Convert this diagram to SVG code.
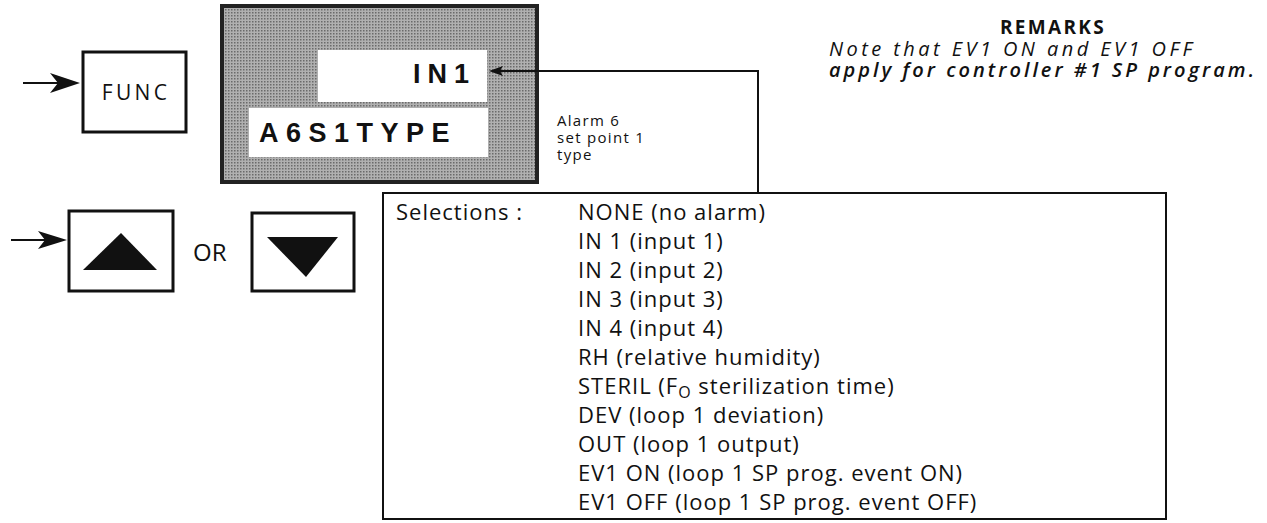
<svg xmlns="http://www.w3.org/2000/svg" width="1267" height="523" viewBox="0 0 1267 523">
<style>
.txt{font-family:"Open Sans","Liberation Sans",sans-serif;fill:#111}
.key{fill:#fff;stroke:#111;stroke-width:3}
.lcd{font-family:"Liberation Sans",Arial,sans-serif;font-weight:bold;fill:#111}
.conn{fill:none;stroke:#111;stroke-width:2}
.list{font-size:22px;letter-spacing:1px;font-weight:500}
</style>
<defs>
<pattern id="dots" width="3" height="3" patternUnits="userSpaceOnUse">
<rect width="3" height="3" fill="#b0b0b0"/>
<rect width="1.5" height="1.5" fill="#6a6a6a"/>
</pattern>
</defs>
<rect width="1267" height="523" fill="#fff"/>

<g id="func-key">
<rect class="key" x="83" y="52" width="103" height="80"/>
<text class="txt" x="136" y="100" font-size="21" text-anchor="middle" letter-spacing="3.3">FUNC</text>
</g>

<g id="display">
<rect x="222" y="6" width="315" height="176" fill="url(#dots)" stroke="#222" stroke-width="4"/>
<rect x="318" y="50" width="169" height="52" fill="#fff"/>
<rect x="249" y="108" width="239" height="49" fill="#fff"/>
<text class="lcd" x="413" y="83" font-size="27" letter-spacing="7">IN1</text>
<text class="lcd" x="259" y="142" font-size="27" letter-spacing="7.5">A6S1TYPE</text>
</g>

<g id="up-key">
<rect class="key" x="69" y="211" width="104" height="80"/>
<polygon points="121,233 157,270 83,270" fill="#111"/>
</g>
<text class="txt" x="193" y="261" font-size="24">OR</text>
<g id="down-key">
<rect class="key" x="252" y="213" width="102" height="78"/>
<polygon points="267,237 338,237 306,277" fill="#111"/>
</g>

<g id="alarm-label">
<text class="txt" font-size="15" letter-spacing="1.3"><tspan x="557" y="126">Alarm 6</tspan><tspan x="557" y="143">set point 1</tspan><tspan x="557" y="160">type</tspan></text>
</g>

<g id="remarks">
<text class="txt" x="1053" y="34" font-size="19" font-weight="bold" text-anchor="middle" letter-spacing="2.3">REMARKS</text>
<text class="txt" x="829" y="56" font-size="20" font-style="italic" textLength="363" lengthAdjust="spacing">Note that EV1 ON and EV1 OFF</text>
<text class="txt" x="829" y="77" font-size="20" font-style="italic" font-weight="600" textLength="425" lengthAdjust="spacing">apply for controller #1 SP program.</text>
</g>

<g id="selections">
<rect x="383" y="193" width="783" height="326" fill="none" stroke="#111" stroke-width="2"/>
<text class="txt list" x="396" y="220">Selections :</text>
<text class="txt list">
<tspan x="578" y="220">NONE (no alarm)</tspan>
<tspan x="578" y="249">IN 1 (input 1)</tspan>
<tspan x="578" y="278">IN 2 (input 2)</tspan>
<tspan x="578" y="307">IN 3 (input 3)</tspan>
<tspan x="578" y="336">IN 4 (input 4)</tspan>
<tspan x="578" y="365">RH (relative humidity)</tspan>
<tspan x="578" y="394">STERIL (F<tspan font-size="16" dy="4">O</tspan><tspan dy="-4"> sterilization time)</tspan></tspan>
<tspan x="578" y="423">DEV (loop 1 deviation)</tspan>
<tspan x="578" y="452">OUT (loop 1 output)</tspan>
<tspan x="578" y="481">EV1 ON (loop 1 SP prog. event ON)</tspan>
<tspan x="578" y="510">EV1 OFF (loop 1 SP prog. event OFF)</tspan>
</text>
</g>

<g id="connectors">
<line class="conn" x1="23" y1="83" x2="62" y2="83" stroke-width="3"/>
<polygon points="80,83 50,73 58,83 50,93" fill="#111"/>
<line class="conn" x1="11" y1="240" x2="50" y2="240" stroke-width="3"/>
<polygon points="67,240 38,231 45,240 38,249" fill="#111"/>
<polyline class="conn" points="500,71 758,71 758,193"/>
<polygon points="489,71 503,66 500,71 503,76" fill="#111"/>
</g>
</svg>
